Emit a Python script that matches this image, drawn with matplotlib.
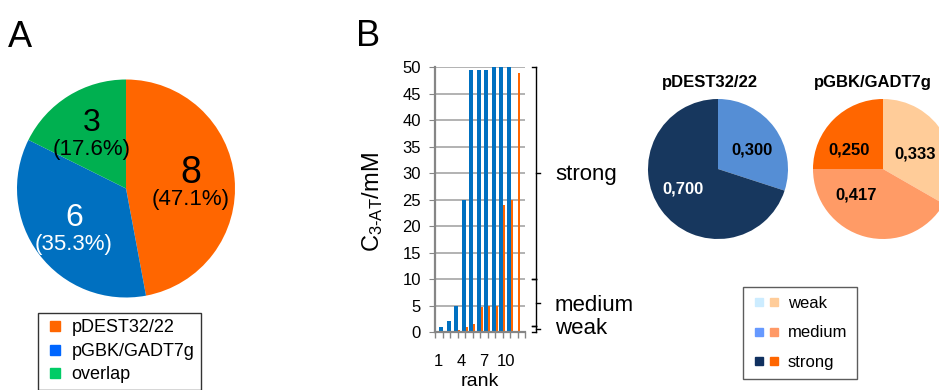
import matplotlib
matplotlib.use('Agg')
import matplotlib.pyplot as plt
import numpy as np
from matplotlib.lines import Line2D
from matplotlib.legend_handler import HandlerTuple
import matplotlib.transforms as mtransforms

plt.rcParams['font.family'] = ['Liberation Sans', 'DejaVu Sans']
plt.rcParams['mathtext.fontset'] = 'custom'
plt.rcParams['mathtext.rm'] = 'Liberation Sans'
plt.rcParams['mathtext.it'] = 'Liberation Sans:italic'
plt.rcParams['mathtext.bf'] = 'Liberation Sans:bold'

# ---------------- data ----------------
# Panel A
overlap_labels = ['pDEST32/22', 'pGBK/GADT7g', 'overlap']
overlap_counts = [8, 6, 3]
overlap_pcts = ['(47.1%)', '(35.3%)', '(17.6%)']
overlap_colors = ['#FF6600', '#0070C0', '#00B050']
overlap_legend_colors = ['#FF6600', '#0066FF', '#00CC66']
overlap_text_colors = ['black', 'white', 'black']
overlap_num_sizes = [27, 23, 23]

# Panel B bars
ranks = list(range(1, 13))
c3at_pgbk = [1, 2, 5, 25, 49.5, 49.5, 49.5, 50, 50, 50, 0, 0]
c3at_pdest = [0, 0, 0.3, 1, 1.5, 4.7, 5, 5, 24, 25, 49, 0]
rank_ticks = [1, 4, 7, 10]
y_ticks = list(range(0, 55, 5))

# strength classes (brackets)
strength_classes = ['weak', 'medium', 'strong']
class_ranges = [(0, 1.2), (1.2, 10), (10, 50)]
class_mid = [0.6, 5.5, 30]
class_label_y = [0.6, 5.0, 29.7]

# Panel B pies
pdest_classes = ['medium', 'strong']
pdest_fracs = [0.300, 0.700]
pdest_colors = ['#558ED5', '#17375E']
pdest_text_colors = ['black', 'white']
pdest_label_pos = [(0.48, 0.27), (-0.50, -0.28)]

pgbk_classes = ['weak', 'medium', 'strong']
pgbk_fracs = [0.333, 0.417, 0.250]
pgbk_colors = ['#FFCC99', '#FF9B66', '#FF6600']
pgbk_label_pos = [(0.46, 0.21), (-0.38, -0.37), (-0.49, 0.27)]

legend_b_blue = ['#CCECFF', '#6699FF', '#10305F']
legend_b_orange = ['#FFCC99', '#FF9966', '#FF6600']

# ---------------- figure ----------------
W, H = 939, 390
fig = plt.figure(figsize=(W / 100, H / 100), dpi=100)


def px_axes(left, top, width, height):
    return fig.add_axes([left / W, 1 - (top + height) / H, width / W, height / H])


# ---- Panel A pie ----
axA = px_axes(17, 79.5, 218, 218)
wedges, _ = axA.pie(overlap_counts, colors=overlap_colors, startangle=90,
                    counterclock=False, radius=1)
axA.set_xlim(-1, 1)
axA.set_ylim(-1, 1)
axA.axis('off')
for w, n, pct, tc, fs in zip(wedges, overlap_counts, overlap_pcts,
                             overlap_text_colors, overlap_num_sizes):
    th = np.deg2rad((w.theta1 + w.theta2) / 2)
    x, y = 0.6 * np.cos(th), 0.6 * np.sin(th)
    axA.annotate(str(n), (x, y), xytext=(0, 7), textcoords='offset points',
                 ha='center', va='center', fontsize=fs, color=tc)
    axA.annotate(pct, (x, y), xytext=(0, -12), textcoords='offset points',
                 ha='center', va='center', fontsize=16, color=tc)

legA = fig.legend(
    handles=[Line2D([], [], marker='s', ls='', color=c, markersize=6.5)
             for c in overlap_legend_colors],
    labels=overlap_labels, loc='upper left',
    bbox_to_anchor=(38 / W, 1 - 313 / H), frameon=True, fancybox=False,
    edgecolor='black', fontsize=13, handlelength=1.2, handletextpad=0.3,
    labelspacing=0.36, borderpad=0.35, borderaxespad=0)
legA.get_frame().set_linewidth(1.0)

# ---- Panel B bars ----
axB = px_axes(435, 67.3, 90, 264.7)
r = np.array(ranks)
axB.bar(r + 0.32, c3at_pgbk, width=0.52, color='#0070C0', zorder=2)
axB.bar(r + 0.72, c3at_pdest, width=0.27, color='#FF6600', zorder=2)
axB.set_xlim(0.5, 12.5)
axB.set_ylim(0, 50)
axB.set_yticks(y_ticks)
axB.set_xticks(rank_ticks)
axB.set_xticks(np.arange(0.5, 13, 1), minor=True)
axB.yaxis.grid(True, color='#A6A6A6', lw=1.2, zorder=0)
axB.set_axisbelow(True)
for s in ['top', 'right']:
    axB.spines[s].set_visible(False)
for s in ['left', 'bottom']:
    axB.spines[s].set_color('#868686')
    axB.spines[s].set_linewidth(1.6)
axB.tick_params(axis='y', direction='out', length=4, color='#868686',
                labelsize=12, pad=6)
axB.tick_params(axis='x', which='major', length=0, labelsize=12, pad=16)
axB.tick_params(axis='x', which='minor', direction='out', length=4,
                color='#868686', width=1)
axB.set_ylabel(r'C$_{\text{3-AT}}$/mM', fontsize=17)
axB.yaxis.set_label_coords(-0.56, 0.49)
axB.set_xlabel('rank', fontsize=14)
axB.xaxis.set_label_coords(0.5, -0.155)

trans = mtransforms.blended_transform_factory(axB.transAxes, axB.transData)
xv, xl, xr = 1.119, 1.075, 1.165
for (lo, hi), mid, ly, name in zip(class_ranges, class_mid, class_label_y,
                                   strength_classes):
    kw = dict(color='black', lw=1, transform=trans, clip_on=False)
    axB.plot([xv, xv], [lo, hi], **kw)
    axB.plot([xl, xv], [hi, hi], **kw)
    axB.plot([xl, xv], [lo, lo], **kw)
    axB.plot([xv, xr], [mid, mid], **kw)
    axB.text(1.333, ly, name, transform=trans, fontsize=16, va='center',
             ha='left')

# ---- Panel B pies ----
def fmt(v):
    return f'{v:.3f}'.replace('.', ',')


axP1 = px_axes(648, 99, 140, 140)
w1, _ = axP1.pie(pdest_fracs, colors=pdest_colors, startangle=90,
                 counterclock=False)
axP1.set_xlim(-1, 1)
axP1.set_ylim(-1, 1)
axP1.axis('off')
for v, (x, y), tc in zip(pdest_fracs, pdest_label_pos, pdest_text_colors):
    axP1.text(x, y, fmt(v), ha='center', va='center', fontsize=12,
              fontweight='bold', color=tc)
axP1.text(0.443, 1.121, 'pDEST32/22', transform=axP1.transAxes, ha='center',
          va='center', fontsize=12, fontweight='bold')

axP2 = px_axes(813, 99, 140, 140)
w2, _ = axP2.pie(pgbk_fracs, colors=pgbk_colors, startangle=90,
                 counterclock=False)
axP2.set_xlim(-1, 1)
axP2.set_ylim(-1, 1)
axP2.axis('off')
for v, (x, y) in zip(pgbk_fracs, pgbk_label_pos):
    axP2.text(x, y, fmt(v), ha='center', va='center', fontsize=12,
              fontweight='bold', color='black')
axP2.text(0.43, 1.121, 'pGBK/GADT7g', transform=axP2.transAxes, ha='center',
          va='center', fontsize=12, fontweight='bold')

legB = fig.legend(
    handles=[(Line2D([], [], marker='s', ls='', color=b, markersize=6),
              Line2D([], [], marker='s', ls='', color=o, markersize=6))
             for b, o in zip(legend_b_blue, legend_b_orange)],
    labels=strength_classes, loc='upper left',
    handler_map={tuple: HandlerTuple(ndivide=None, pad=0.06)},
    bbox_to_anchor=(743 / W, 1 - 287 / H), frameon=True, fancybox=False,
    edgecolor='#333333', fontsize=12, handlelength=1.75, handletextpad=0.4,
    labelspacing=0.85, borderpad=0.55, borderaxespad=0)
legB.get_frame().set_linewidth(1.0)

# panel letters
fig.text(8 / W, 1 - 47 / H, 'A', fontsize=26, ha='left', va='baseline')
fig.text(356 / W, 1 - 46 / H, 'B', fontsize=26, ha='left', va='baseline')

fig.savefig('out.png', dpi=100)
